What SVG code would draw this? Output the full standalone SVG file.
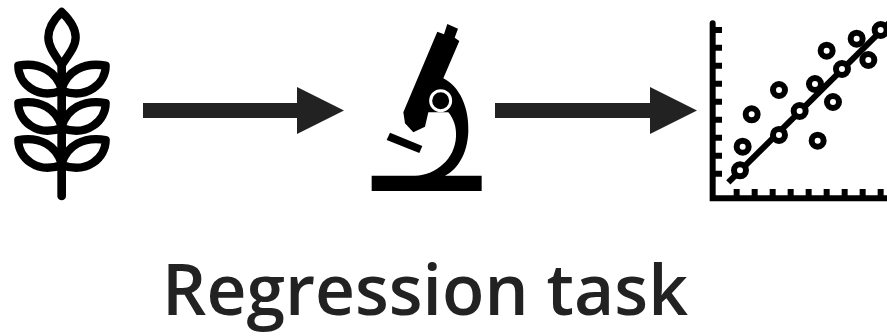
<svg xmlns="http://www.w3.org/2000/svg" width="887" height="336" viewBox="0 0 887 336">
<style>
.lf{fill:none;stroke:#000;stroke-width:25;stroke-linejoin:round;stroke-linecap:round}
.ax{fill:none;stroke:#000;stroke-width:18;stroke-linecap:round}
.tk{fill:none;stroke:#000;stroke-width:18}
.pt{fill:#fff;stroke:#000;stroke-width:18}
.ar{fill:#222}
text{font-family:"Open Sans","Noto Sans",sans-serif;font-weight:600;font-size:70px;fill:#222}
</style>
<defs>
<g id="leafpair">
<path class="lf" d="M185,268 C170,215 120,185 55,197 C55,250 110,300 185,272"/>
<path class="lf" d="M185,268 C200,215 250,185 317,197 C317,250 262,300 185,272"/>
</g>
</defs>
<rect width="887" height="336" fill="#fff"/>
<g id="wheat" transform="scale(0.3333)">
<path class="lf" d="M185,36 C160,60 145,85 145,112 C145,140 165,165 185,195 C205,165 227,140 227,112 C227,85 210,60 185,36Z"/>
<path class="lf" d="M185,190 V588" style="stroke-width:26"/>
<use href="#leafpair"/>
<use href="#leafpair" y="112"/>
<use href="#leafpair" y="223"/>
</g>
<g id="microscope" transform="translate(360,15) scale(0.3333)">
<path d="M262,27 L294,41 L284,68 L298,78 L250,190 C300,215 328,280 325,350 C322,420 290,465 255,482 L365,482 V528 H35 V482 H165 C230,480 285,430 288,365 C290,335 280,310 265,292 H205 L195,335 L160,352 L135,325 L130,292 L232,50 L252,58 Z" fill="#000"/>
<path d="M90,353 L187,393 L178,414 L80,375 Z" fill="#000"/>
<circle cx="242" cy="257" r="30" fill="#000" stroke="#fff" stroke-width="9"/>
</g>
<g id="scatter" transform="translate(700,10) scale(0.3333)">
<path class="ax" d="M38,40 V565 H570"/>
<path class="tk" d="M38,60H66M38,113H66M38,167H66M38,221H66M38,275H66M38,329H66M38,383H66M38,437H66M38,491H66"/>
<path class="tk" d="M110,537V565M164,537V565M218,537V565M272,537V565M326,537V565M380,537V565M434,537V565M488,537V565M542,537V565"/>
<path d="M85,517 L570,36" fill="none" stroke="#000" stroke-width="18"/>
<g>
<circle class="pt" cx="120" cy="481" r="18"/><circle class="pt" cx="128" cy="410" r="18"/><circle class="pt" cx="155" cy="313" r="18"/><circle class="pt" cx="237" cy="375" r="18"/><circle class="pt" cx="237" cy="240" r="18"/><circle class="pt" cx="299" cy="303" r="18"/><circle class="pt" cx="345" cy="222" r="18"/><circle class="pt" cx="353" cy="392" r="18"/><circle class="pt" cx="399" cy="276" r="18"/><circle class="pt" cx="426" cy="177" r="18"/><circle class="pt" cx="380" cy="122" r="18"/><circle class="pt" cx="470" cy="86" r="18"/><circle class="pt" cx="505" cy="150" r="18"/><circle class="pt" cx="542" cy="60" r="18"/>
</g>
</g>
<g id="connectors">
<path class="ar" d="M143,103 H297 V87 L344,110.500 L297,134 V118 H143 Z"/>
<path class="ar" d="M495,103 H650 V87 L697,110.500 L650,134 V118 H495 Z"/>
</g>
<g id="title"><text x="162" y="315" textLength="526" lengthAdjust="spacingAndGlyphs">Regression task</text></g>
</svg>
